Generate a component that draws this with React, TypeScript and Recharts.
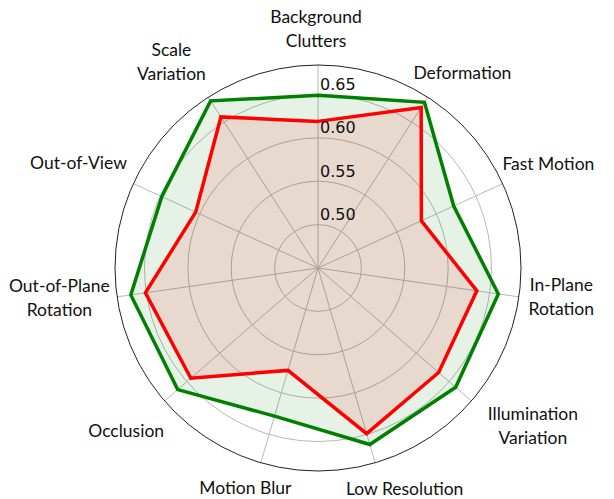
import React from 'react';
import { RadarChart, Radar, PolarGrid, PolarAngleAxis, PolarRadiusAxis } from 'recharts';

const categories = [
  'Background Clutters',
  'Deformation',
  'Fast Motion',
  'In-Plane Rotation',
  'Illumination Variation',
  'Low Resolution',
  'Motion Blur',
  'Occlusion',
  'Out-of-Plane Rotation',
  'Out-of-View',
  'Scale Variation',
];

// how each category label is broken into lines
const labelLines = [
  ['Background', 'Clutters'],
  ['Deformation'],
  ['Fast Motion'],
  ['In-Plane', 'Rotation'],
  ['Illumination', 'Variation'],
  ['Low Resolution'],
  ['Motion Blur'],
  ['Occlusion'],
  ['Out-of-Plane', 'Rotation'],
  ['Out-of-View'],
  ['Scale', 'Variation'],
];

const greenValues = [0.649, 0.677, 0.622, 0.66, 0.66, 0.662, 0.628, 0.664, 0.668, 0.648, 0.679];
const redValues = [0.619, 0.67, 0.581, 0.635, 0.634, 0.649, 0.573, 0.644, 0.651, 0.605, 0.657];

const radiusTicks = [0.5, 0.55, 0.6, 0.65];
const radiusDomain = [0.45, 0.684];

// small hand tweaks so the labels sit where the original put them
const labelNudge = [
  [-2, -4], [10, 14], [-5, 3], [-2, -7], [17, -14], [19, -10],
  [-6, -7], [-4, 0], [4, -8], [-2, 3], [-11, 4],
];

const data = categories.map((name, i) => ({
  name,
  green: greenValues[i],
  red: redValues[i],
}));

const W = 614;
const H = 499;
const CX = 318;
const CY = 268;
const OUTER = 203;
const LABEL_GAP = 212;
const LABEL_FONT = 'Lato, "Open Sans", sans-serif';
const LABEL_SIZE = 17.5;
const LINE_H = 24;

let ctx: CanvasRenderingContext2D | null = null;
function textWidth(s: string) {
  if (!ctx) ctx = document.createElement('canvas').getContext('2d');
  if (!ctx) return s.length * LABEL_SIZE * 0.5;
  ctx.font = `${LABEL_SIZE}px ${LABEL_FONT}`;
  return ctx.measureText(s).width;
}

function AngleTick(props: any) {
  const { x, y, payload } = props;
  const idx = categories.indexOf(payload.value);
  const lines = idx >= 0 ? labelLines[idx] : [String(payload.value)];
  const [nx, ny] = idx >= 0 ? labelNudge[idx] : [0, 0];
  const a = Math.atan2(CY - y, x - CX);
  const cos = Math.cos(a);
  const sin = Math.sin(a);
  const w = Math.max(...lines.map(textWidth));
  const h = lines.length * LINE_H;
  const r = LABEL_GAP + (Math.abs(cos) * w) / 2 + (Math.abs(sin) * h) / 2;
  const tx = CX + r * cos + nx;
  const ty = CY - r * sin + ny;
  const top = ty - ((lines.length - 1) * LINE_H) / 2;
  return (
    <text textAnchor="middle" fontFamily={LABEL_FONT} fontSize={LABEL_SIZE} fill="#111">
      {lines.map((l, i) => (
        <tspan key={i} x={tx} y={top + i * LINE_H} dominantBaseline="central">
          {l}
        </tspan>
      ))}
    </text>
  );
}

function RadiusTick(props: any) {
  const { x, y, payload } = props;
  return (
    <text
      x={x + 2}
      y={y - 10}
      dominantBaseline="central"
      textAnchor="start"
      fontFamily='"DejaVu Sans", sans-serif'
      fontSize={16}
      fill="#111"
    >
      {Number(payload.value).toFixed(2)}
    </text>
  );
}

export default function App() {
  return (
    <div style={{ position: 'absolute', left: 0, top: 0, width: W, height: H, background: '#fff' }}>
      <RadarChart width={W} height={H} data={data} cx={CX} cy={CY} outerRadius={OUTER}>
        <PolarGrid gridType="circle" stroke="#b8b8b8" strokeWidth={1} />
        <PolarGrid
          gridType="circle"
          polarRadius={[OUTER]}
          radialLines={false}
          stroke="#222"
          strokeWidth={1}
        />
        <PolarAngleAxis dataKey="name" tick={<AngleTick />} tickLine={false} axisLine={false} />
        <PolarRadiusAxis
          type="number"
          angle={90}
          domain={radiusDomain}
          allowDataOverflow
          allowDecimals
          ticks={radiusTicks}
          tick={<RadiusTick />}
          axisLine={false}
          tickLine={false}
        />
        <Radar
          dataKey="green"
          stroke="#008000"
          strokeWidth={3.5}
          fill="#008000"
          fillOpacity={0.1}
          dot={false}
          isAnimationActive={false}
        />
        <Radar
          dataKey="red"
          stroke="#ff0000"
          strokeWidth={3.5}
          fill="#ff0000"
          fillOpacity={0.1}
          dot={false}
          isAnimationActive={false}
        />
      </RadarChart>
    </div>
  );
}
